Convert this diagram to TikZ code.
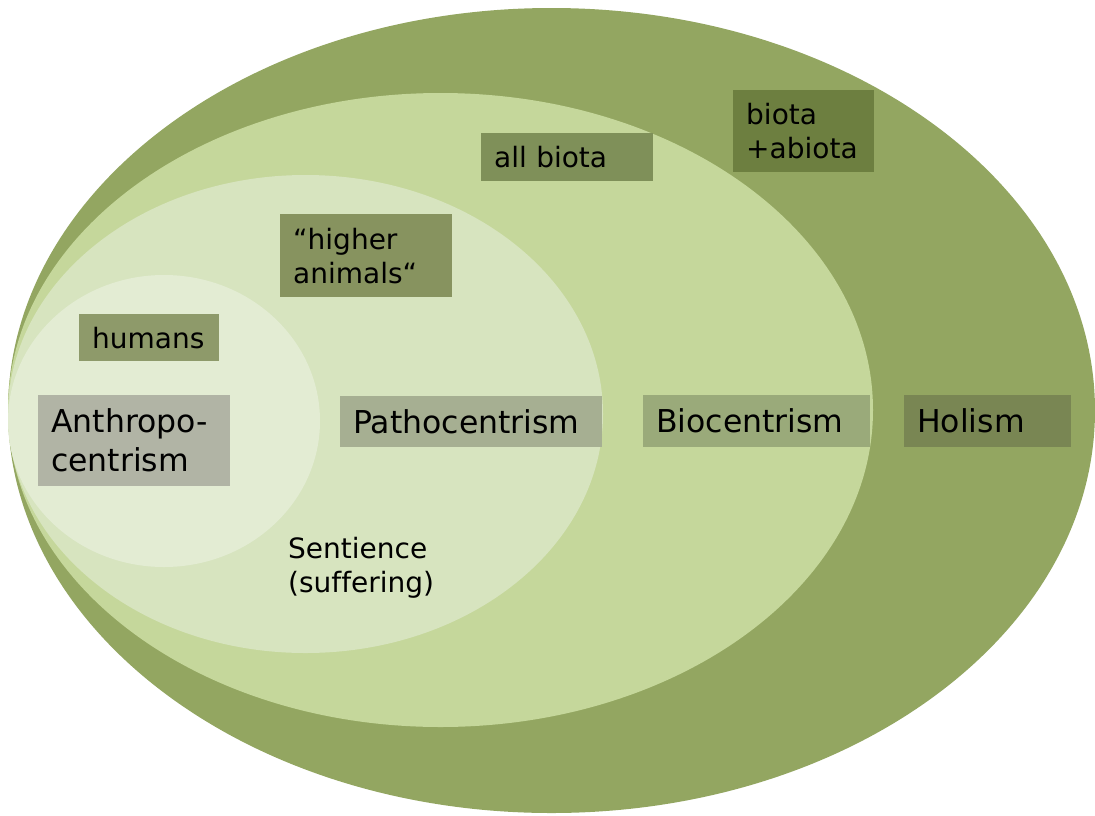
\documentclass[tikz,border=0pt]{standalone}
\usepackage{fontspec}
\setmainfont[Ligatures=NoCommon]{DejaVu Sans}
\usepackage{tikz}
\usetikzlibrary{positioning}

\definecolor{holism}{HTML}{93A661}
\definecolor{bio}{HTML}{C5D79B}
\definecolor{patho}{HTML}{D7E4BF}
\definecolor{anthro}{HTML}{E3ECD3}
\definecolor{humansbox}{HTML}{8E9A6A}
\definecolor{anthrobox}{HTML}{B1B4A5}
\definecolor{higherbox}{HTML}{87935F}
\definecolor{pathobox}{HTML}{A6AF92}
\definecolor{allbiotabox}{HTML}{7F9059}
\definecolor{biobox}{HTML}{9AAA7A}
\definecolor{abiotabox}{HTML}{6D7F40}
\definecolor{holismbox}{HTML}{798653}

\tikzset{
    tag/.style={anchor=north west, inner xsep=13pt, inner ysep=0pt, align=left,
        font=\fontsize{28}{34}\selectfont},
    bigtag/.style={tag, font=\fontsize{31.5}{39}\selectfont}
}

\begin{document}
\begin{tikzpicture}[x=1pt, y=-1pt]
    \useasboundingbox (0,0) rectangle (1095,815);
    % Nested circles of moral consideration
    \fill[holism] (551.5,410.5) ellipse (543.5 and 402.5);
    \fill[bio] (440.5,410) ellipse (432.5 and 317);
    \fill[patho] (305.5,414) ellipse (297.5 and 239);
    \fill[anthro] (164,421) ellipse (156 and 146);
    % Who counts
    \node[tag, fill=humansbox, text width=114pt, minimum height=47pt] (humans) at (79,314) {humans};
    \node[tag, fill=higherbox, text width=146pt, minimum height=83pt] (higher) at (280,214) {“higher\\animals“};
    \node[tag, fill=allbiotabox, text width=146pt, minimum height=48pt] (allbiota) at (481,133) {all biota};
    \node[tag, fill=abiotabox, text width=115pt, minimum height=82pt] (abiota) at (733,90) {biota\\+abiota};
    % Positions
    \node[bigtag, fill=anthrobox, text width=166pt, minimum height=91pt] (anthropo) at (38,395) {Anthropo-\\centrism};
    \node[bigtag, fill=pathobox, text width=236pt, minimum height=51pt] (pathocentrism) at (340,396) {Pathocentrism};
    \node[bigtag, fill=biobox, text width=201pt, minimum height=52pt] (biocentrism) at (643,395) {Biocentrism};
    \node[bigtag, fill=holismbox, text width=141pt, minimum height=52pt] (holismlbl) at (904,395) {Holism};
    % Criterion
    \node[tag, inner xsep=0pt] (sentience) at (288,537) {Sentience\\(suffering)};
\end{tikzpicture}
\end{document}
